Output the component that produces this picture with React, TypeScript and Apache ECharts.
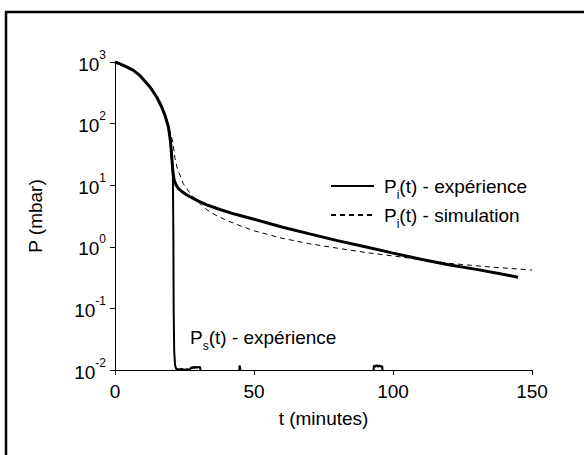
import React, { useEffect, useRef } from "react";
import * as echarts from "echarts";

// P_i(t) - experiment
const piExpT = [0, 2, 4, 6.5, 9, 12.6, 15, 16.8, 18, 19.2, 20, 20.4, 20.8, 21.2, 22, 22.8, 24, 25.5, 27, 30, 33, 38, 43, 50, 60, 70, 80, 90, 100, 110, 120, 130, 140, 145];
const piExpP = [1000, 920, 840, 740, 600, 393, 270, 186, 135, 89, 50, 29, 17, 12.5, 10, 8.9, 7.9, 7.1, 6.5, 5.5, 4.8, 4.0, 3.4, 2.8, 2.1, 1.62, 1.26, 1.0, 0.79, 0.63, 0.51, 0.43, 0.355, 0.32];

// P_i(t) - simulation
const piSimT = [0, 2, 4, 6.5, 9, 12.6, 15, 16.8, 18, 19.2, 20, 20.8, 21.6, 22.5, 23.4, 24.6, 27, 30, 33, 36, 40, 45, 50, 60, 70, 80, 90, 100, 110, 120, 135, 150];
const piSimP = [1000, 920, 840, 740, 600, 393, 270, 186, 135, 89, 68, 50, 27, 18, 14.5, 10.5, 7.4, 5.3, 4.0, 3.3, 2.7, 2.2, 1.82, 1.38, 1.12, 0.95, 0.81, 0.71, 0.62, 0.54, 0.47, 0.42];

// P_s(t) - experiment
const psExpT = [0, 2, 4, 6.5, 9, 12.6, 15, 16.8, 18, 19.2, 20, 20.4, 20.8, 21.0, 21.1, 21.3, 21.6, 22, 23, 24, 25, 26, 27, 27.5, 27.8, 28.2, 28.6, 29.0, 29.4, 29.8, 30.2, 30.6, 31, 44.6, 44.8, 45.0, 45.2, 92.9, 93.1, 93.6, 94.1, 94.6, 95.1, 95.6, 96.1, 96.4];
const psExpP = [1000, 920, 840, 740, 600, 393, 270, 186, 135, 89, 50, 29, 17, 1.5, 0.1, 0.02, 0.012, 0.0105, 0.0102, 0.0104, 0.0101, 0.0103, 0.0102, 0.0112, 0.0106, 0.0113, 0.0107, 0.0114, 0.0108, 0.0112, 0.011, 0.0112, 0.008, 0.008, 0.0118, 0.0112, 0.008, 0.008, 0.0118, 0.0112, 0.012, 0.0113, 0.0119, 0.0112, 0.0117, 0.008];

const xTickValues = [0, 50, 100, 150];
const yExponents = [-2, -1, 0, 1, 2, 3];

const seriesNames = ["piExp", "piSim", "psExp"];
const legendLabels: Record<string, string> = {
  piExp: "{n|P}{s|i}{n|(t) - expérience}",
  piSim: "{n|P}{s|i}{n|(t) - simulation}",
};
const annotationText = "{n|P}{s|s}{n|(t) - expérience}";

const FONT = "'Liberation Sans', Arial, Helvetica, sans-serif";

const subRich = {
  n: { fontSize: 19, fontFamily: FONT, color: "#000", lineHeight: 22 },
  s: { fontSize: 12, fontFamily: FONT, color: "#000", lineHeight: 22, padding: [18, 0, 0, 0] },
};

export default function App() {
  const ref = useRef<HTMLDivElement>(null);
  useEffect(() => {
    if (!ref.current) return;
    const chart = echarts.init(ref.current, null, { renderer: "svg" });
    const pair = (t: number[], p: number[]) => t.map((v, i) => [v, p[i]]);
    chart.setOption({
      animation: false,
      backgroundColor: "#fff",
      textStyle: { fontFamily: FONT, color: "#000" },
      grid: { left: 115, right: 52, top: 62, bottom: 85 },
      legend: {
        data: ["piExp", "piSim"],
        orient: "vertical",
        left: 330,
        top: 171,
        padding: 0,
        itemWidth: 43,
        itemHeight: 20,
        itemGap: -1,
        itemStyle: { opacity: 0 },
        formatter: (name: string) => legendLabels[name],
        textStyle: { padding: [0, 0, 0, 5], rich: subRich },
      },
      xAxis: {
        type: "value",
        min: xTickValues[0],
        max: xTickValues[xTickValues.length - 1],
        interval: 50,
        name: "t (minutes)",
        nameLocation: "middle",
        nameGap: 39,
        nameTextStyle: { fontSize: 19, color: "#000", fontFamily: FONT },
        axisLine: { lineStyle: { color: "#000", width: 1 } },
        axisTick: { length: 5, lineStyle: { color: "#000" } },
        axisLabel: { fontSize: 19, color: "#000", fontFamily: FONT, margin: 12 },
        splitLine: { show: false },
      },
      yAxis: {
        type: "log",
        logBase: 10,
        min: Math.pow(10, yExponents[0]),
        max: Math.pow(10, yExponents[yExponents.length - 1]),
        splitNumber: yExponents.length,
        name: "P (mbar)",
        nameLocation: "middle",
        nameGap: 70,
        nameTextStyle: { fontSize: 19, color: "#000", fontFamily: FONT },
        axisLine: { show: true, lineStyle: { color: "#000", width: 1 } },
        axisTick: { show: true, length: 5, lineStyle: { color: "#000" } },
        minorTick: { show: false },
        splitLine: { show: false },
        axisLabel: {
          margin: 9,
          formatter: (v: number) => `{b|10}{e|${Math.round(Math.log10(v))}}`,
          rich: {
            b: { fontSize: 19, fontFamily: FONT, color: "#000", lineHeight: 22, padding: [4, 0, 0, 0] },
            e: { fontSize: 12, fontFamily: FONT, color: "#000", lineHeight: 22, padding: [0, 0, 15, 0] },
          },
        },
      },
      series: [
        {
          name: seriesNames[1],
          type: "line",
          data: pair(piSimT, piSimP),
          symbol: "none",
          clip: true,
          lineStyle: { color: "#000", width: 1, type: [5, 4] },
          itemStyle: { color: "#000" },
          z: 2,
        },
        {
          name: seriesNames[2],
          type: "line",
          data: pair(psExpT, psExpP),
          symbol: "none",
          clip: true,
          lineStyle: { color: "#000", width: 2 },
          itemStyle: { color: "#000" },
          z: 3,
        },
        {
          name: seriesNames[0],
          type: "line",
          data: pair(piExpT, piExpP),
          symbol: "none",
          clip: true,
          lineStyle: { color: "#000", width: 3 },
          itemStyle: { color: "#000" },
          z: 4,
        },
      ],
      graphic: [
        {
          type: "rect",
          shape: { x: 6, y: 12, width: 700, height: 600 },
          style: { fill: "none", stroke: "#000", lineWidth: 2.5 },
          silent: true,
        },
        {
          type: "text",
          x: 190,
          y: 337,
          style: {
            text: annotationText,
            rich: subRich,
            verticalAlign: "middle",
            align: "left",
          },
          silent: true,
        },
      ],
    });
    return () => chart.dispose();
  }, []);
  return (
    <div
      ref={ref}
      style={{ position: "absolute", left: 0, top: 0, width: 584, height: 455 }}
    />
  );
}
